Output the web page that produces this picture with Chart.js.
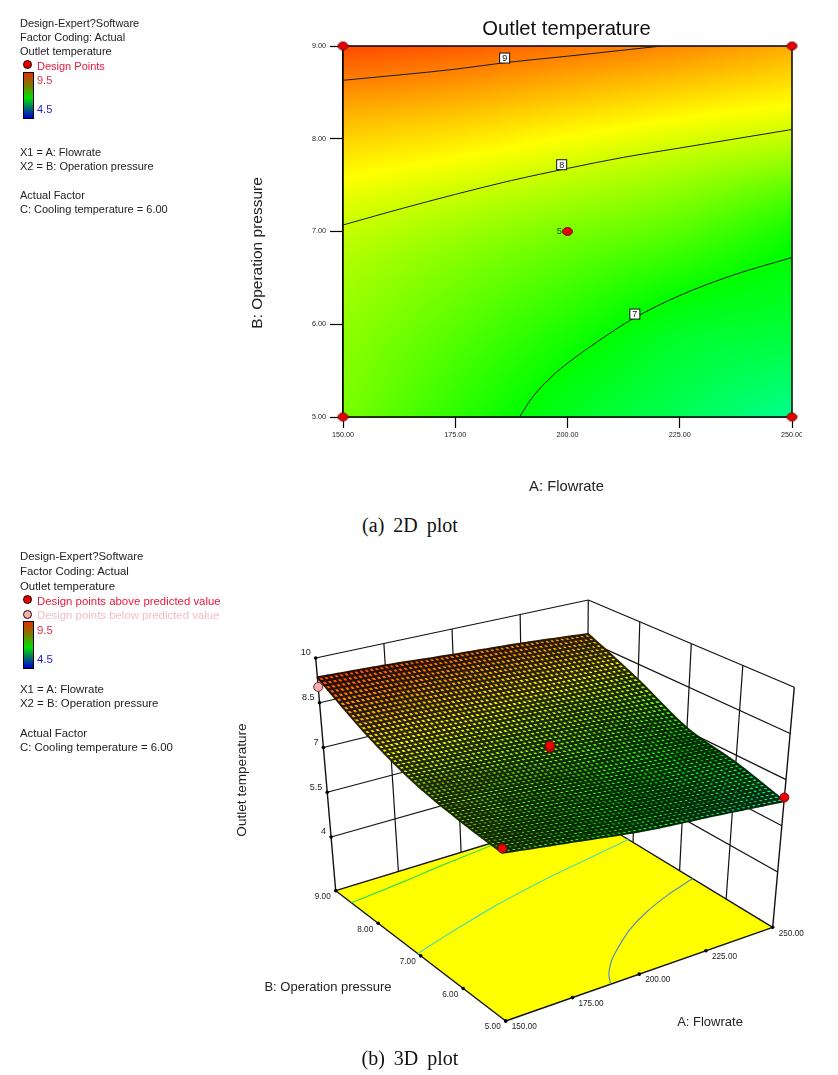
<!DOCTYPE html>
<html>
<head>
<meta charset="utf-8">
<script src="https://cdn.jsdelivr.net/npm/chart.js@4"></script>
<style>
  html, body { margin: 0; padding: 0; background: #fff; }
  body { width: 838px; height: 1075px; position: relative; overflow: hidden; font-family: "Liberation Sans", sans-serif; }
  canvas { position: absolute; left: 0; }
  #chart2d { top: 0; }
  #chart3d { top: 540px; }
  .n { position: absolute; left: 20px; line-height: 14px; white-space: nowrap; color: #222; }
  .a { font-size: 11px; }
  .b { font-size: 11.4px; }
  .c { left: 37px; }
  .bar { position: absolute; left: 23px; width: 9px; border: 1px solid #000;
         background: linear-gradient(#e03000, #7d7d00 28%, #00e000 55%, #006e6e 78%, #0000d0); }
  .dot { position: absolute; left: 22.5px; width: 7px; height: 7px; border: 1px solid #200; border-radius: 50%; }
  .cap { position: absolute; left: 300px; width: 220px; text-align: center; line-height: 24px;
         font-family: "Liberation Serif", serif; font-size: 20px; word-spacing: 4px; color: #111; }
</style>
</head>
<body>
<canvas id="chart2d" width="802" height="500"></canvas>
<canvas id="chart3d" width="838" height="535"></canvas>

<div class="n a" style="top:16px">Design-Expert?Software</div>
<div class="n a" style="top:30px">Factor Coding: Actual</div>
<div class="n a" style="top:44px">Outlet temperature</div>
<div class="dot" style="top:60px;background:#e00000"></div>
<div class="n a c" style="top:59px;color:#e8183c">Design Points</div>
<div class="bar" style="top:72px;height:45px"></div>
<div class="n a c" style="top:73px;color:#d8304c">9.5</div>
<div class="n a c" style="top:102px;color:#2222cc">4.5</div>
<div class="n a" style="top:145px">X1 = A: Flowrate</div>
<div class="n a" style="top:159px">X2 = B: Operation pressure</div>
<div class="n a" style="top:188px">Actual Factor</div>
<div class="n a" style="top:202px">C: Cooling temperature = 6.00</div>
<div class="cap" style="top:513px">(a) 2D plot</div>

<div class="n b" style="top:549px">Design-Expert?Software</div>
<div class="n b" style="top:564px">Factor Coding: Actual</div>
<div class="n b" style="top:579px">Outlet temperature</div>
<div class="dot" style="top:595px;background:#e00000"></div>
<div class="n b c" style="top:594px;color:#e8183c">Design points above predicted value</div>
<div class="dot" style="top:610px;background:#f4b0b0"></div>
<div class="n b c" style="top:608px;color:#f6bcc4">Design points below predicted value</div>
<div class="bar" style="top:621px;height:46px"></div>
<div class="n b c" style="top:623px;color:#d8304c">9.5</div>
<div class="n b c" style="top:652px;color:#2222cc">4.5</div>
<div class="n b" style="top:682px">X1 = A: Flowrate</div>
<div class="n b" style="top:696px">X2 = B: Operation pressure</div>
<div class="n b" style="top:726px">Actual Factor</div>
<div class="n b" style="top:740px">C: Cooling temperature = 6.00</div>
<div class="cap" style="top:1046px">(b) 3D plot</div>

<script>
// values
var flowTicks = [150, 175, 200, 225, 250];
var pressureTicks = [5, 6, 7, 8, 9];
var tempTicks = [10, 8.5, 7, 5.5, 4];

// outlet temperature along pressureTicks, one list per flowrate
var outlet150 = [7.60, 7.72, 7.97, 8.52, 9.35];
var outlet175 = [7.22, 7.45, 7.78, 8.40, 9.25];
var outlet200 = [6.84, 7.16, 7.60, 8.24, 9.10];
var outlet225 = [6.58, 6.86, 7.42, 8.08, 8.96];
var outlet250 = [6.30, 6.75, 7.10, 7.95, 8.76];
var outletTable = [outlet150, outlet175, outlet200, outlet225, outlet250];

var contour9Flow = [150, 175, 186, 200, 221];
var contour9Pressure = [8.63, 8.75, 8.82, 8.89, 9];
var contour8Flow = [150, 162.5, 175, 187.5, 200, 212.5, 225, 237.5, 250];
var contour8Pressure = [7.07, 7.24, 7.40, 7.55, 7.68, 7.80, 7.90, 8.00, 8.10];
var contour7Flow = [189.3, 192.3, 196.8, 200, 207.2, 214.6, 225, 236.9, 250];
var contour7Pressure = [5, 5.22, 5.45, 5.58, 5.83, 6.06, 6.31, 6.53, 6.72];

var contourLabels = ['9', '8', '7'];
var contourLabelFlow = [186, 198.7, 215];
var contourLabelPressure = [8.87, 7.72, 6.11];

var designFlow = [150, 150, 250, 250, 200];
var designPressure = [5, 9, 5, 9, 7];

// 3D markers: above / below the predicted surface
var aboveFlow = [150, 250, 200, 200];
var abovePressure = [5, 5, 7, 7];
var aboveTemp = [7.74, 6.42, 7.76, 7.83];
var belowFlow = [150];
var belowPressure = [9];
var belowTemp = [9.03];

function fmt2(v) { return Number(v).toFixed(2); }

function xy(xs, ys) {
  return xs.map(function (x, i) { return { x: x, y: ys[i] }; });
}

// blue, cyan, green, yellow, red; the last step runs a bit past the 9.5 legend mark
function rainbow(v) {
  if (v >= 8.25) return [255, Math.max(0, 255 * (9.8 - v) / 1.55), 0];
  var t = Math.max(0, (v - 4.5) / 1.25);
  var k = Math.floor(t), f = t - k;
  if (k === 0) return [0, 255 * f, 255];
  if (k === 1) return [0, 255, 255 * (1 - f)];
  return [255 * f, 255, 0];
}

function cr(p0, p1, p2, p3, t) {
  return p1 + 0.5 * t * (p2 - p0 + t * (2 * p0 - 5 * p1 + 4 * p2 - p3 + t * (3 * (p1 - p2) + p3 - p0)));
}

function pick(list, i) {
  var n = list.length;
  if (i < 0) return 2 * list[0] - list[1];
  if (i >= n) return 2 * list[n - 1] - list[n - 2];
  return list[i];
}

// smooth shading between the table values, only used for colouring
function outletAt(flow, pressure) {
  var u = Math.max(0, Math.min(3.9999, (flow - 150) / 25));
  var v = Math.max(0, Math.min(3.9999, pressure - 5));
  var iu = Math.floor(u), iv = Math.floor(v);
  var rows = [];
  for (var k = -1; k <= 2; k++) {
    var c = iu + k, col;
    if (c < 0) col = outletTable[0].map(function (y, j) { return 2 * y - outletTable[1][j]; });
    else if (c > 4) col = outletTable[4].map(function (y, j) { return 2 * y - outletTable[3][j]; });
    else col = outletTable[c];
    rows.push(cr(pick(col, iv - 1), pick(col, iv), pick(col, iv + 1), pick(col, iv + 2), v - iv));
  }
  return cr(rows[0], rows[1], rows[2], rows[3], u - iu);
}

function ellipseMark(fill) {
  var c = document.createElement('canvas');
  c.width = 13; c.height = 11;
  var g = c.getContext('2d');
  g.beginPath();
  g.ellipse(6.5, 5.5, 5, 4, 0, 0, Math.PI * 2);
  g.fillStyle = fill;
  g.fill();
  g.lineWidth = 1;
  g.strokeStyle = '#701010';
  g.stroke();
  return c;
}

function drawText(ctx, text, x, y, font, color, align, angle) {
  ctx.save();
  ctx.translate(x, y);
  if (angle) ctx.rotate(angle);
  ctx.font = font;
  ctx.fillStyle = color;
  ctx.textAlign = align || 'center';
  ctx.textBaseline = 'middle';
  ctx.fillText(text, 0, 0);
  ctx.restore();
}

var heatPlugin = {
  id: 'heat',
  beforeDatasetsDraw: function (chart) {
    var area = chart.chartArea, sx = chart.scales.x, sy = chart.scales.y;
    var ctx = chart.ctx;
    var w = Math.round(area.right - area.left), h = Math.round(area.bottom - area.top);
    var img = ctx.createImageData(w, h);
    for (var j = 0; j < h; j++) {
      var pressure = sy.getValueForPixel(area.top + j + 0.5);
      for (var i = 0; i < w; i++) {
        var rgb = rainbow(outletAt(sx.getValueForPixel(area.left + i + 0.5), pressure));
        var o = (j * w + i) * 4;
        img.data[o] = rgb[0]; img.data[o + 1] = rgb[1]; img.data[o + 2] = rgb[2]; img.data[o + 3] = 255;
      }
    }
    ctx.putImageData(img, Math.round(area.left), Math.round(area.top));
    ctx.save();
    ctx.strokeStyle = '#000';
    ctx.lineWidth = 1.5;
    ctx.strokeRect(area.left, area.top, area.right - area.left, area.bottom - area.top);
    ctx.restore();
  },
  afterDatasetsDraw: function (chart) {
    var ctx = chart.ctx, area = chart.chartArea, sx = chart.scales.x, sy = chart.scales.y;
    contourLabels.forEach(function (t, i) {
      var x = sx.getPixelForValue(contourLabelFlow[i]), y = sy.getPixelForValue(contourLabelPressure[i]);
      ctx.save();
      ctx.fillStyle = '#fff';
      ctx.strokeStyle = '#111';
      ctx.lineWidth = 1;
      ctx.fillRect(x - 5, y - 5, 10, 10);
      ctx.strokeRect(x - 5, y - 5, 10, 10);
      ctx.restore();
      drawText(ctx, t, x, y + 0.5, '9px "Liberation Sans"', '#111');
    });
    // replicate count beside the centre point
    drawText(ctx, '5', sx.getPixelForValue(200) - 8, sy.getPixelForValue(7), '9.5px "Liberation Sans"', '#0a5a20');
    var mid = (area.left + area.right) / 2 - 1;
    drawText(ctx, 'Outlet temperature', mid, 29, '20.2px "Liberation Sans"', '#111');
    drawText(ctx, 'A: Flowrate', mid, 487, '14.8px "Liberation Sans"', '#222');
    drawText(ctx, 'B: Operation pressure', 258, 253, '15.5px "Liberation Sans"', '#222', 'center', -Math.PI / 2);
  }
};

function contourSet(xs, ys) {
  return { type: 'scatter', data: xy(xs, ys), showLine: true, cubicInterpolationMode: 'monotone', borderColor: '#1a1a1a', borderWidth: 1, pointRadius: 0 };
}

new Chart(document.getElementById('chart2d'), {
  type: 'scatter',
  data: {
    datasets: [
      { data: xy(designFlow, designPressure), pointStyle: ellipseMark('#e60000'), clip: false },
      contourSet(contour9Flow, contour9Pressure),
      contourSet(contour8Flow, contour8Pressure),
      contourSet(contour7Flow, contour7Pressure)
    ]
  },
  options: {
    responsive: false,
    animation: false,
    layout: { autoPadding: false, padding: { top: 46, right: 10, left: 0, bottom: 0 } },
    plugins: { legend: { display: false }, tooltip: { enabled: false } },
    scales: {
      x: {
        min: 150, max: 250,
        // the last label runs off the edge of the canvas, as in the source figure
        afterFit: function (s) { s.height = 83; s.paddingRight = 0; s.paddingLeft = 0; },
        grid: { drawOnChartArea: false, tickLength: 11, color: '#000', tickWidth: 1.2 },
        border: { color: '#000', width: 1.5 },
        ticks: { stepSize: 25, padding: 3, maxRotation: 0, autoSkip: false, color: '#222', font: { family: 'Liberation Sans', size: 7.2 }, callback: fmt2 }
      },
      y: {
        min: 5, max: 9,
        afterFit: function (s) { s.width = 343; },
        grid: { drawOnChartArea: false, tickLength: 13, color: '#000', tickWidth: 1.2 },
        border: { color: '#000', width: 1.5 },
        ticks: { stepSize: 1, padding: 4, color: '#222', font: { family: 'Liberation Sans', size: 7.2 }, callback: fmt2 }
      }
    }
  },
  plugins: [heatPlugin]
});

// ---- 3D view: box corners as they stand in the picture, blended between them ----
var floorTemp = 2.2, topTemp = 10;
var cBottom = [505.7, 1021], cRight = [772.7, 927.3], cBack = [586.5, 814], cLeft = [335.7, 890.7];
var tBottom = [500.8, 778], tRight = [794.3, 687.3], tBack = [588.3, 600], tLeft = [315.7, 658];

function blend(p00, p10, p11, p01, u, v, k) {
  return (1 - u) * (1 - v) * p00[k] + u * (1 - v) * p10[k] + u * v * p11[k] + (1 - u) * v * p01[k];
}

function project(flow, pressure, temp) {
  var u = (flow - 150) / 100, v = (pressure - 5) / 4, w = (temp - floorTemp) / (topTemp - floorTemp);
  return {
    x: (1 - w) * blend(cBottom, cRight, cBack, cLeft, u, v, 0) + w * blend(tBottom, tRight, tBack, tLeft, u, v, 0),
    y: (1 - w) * blend(cBottom, cRight, cBack, cLeft, u, v, 1) + w * blend(tBottom, tRight, tBack, tLeft, u, v, 1)
  };
}

function line3d(a, b, width, color) {
  return {
    type: 'scatter', showLine: true, pointRadius: 0, tension: 0,
    borderColor: color || '#111', borderWidth: width || 1,
    data: [project(a[0], a[1], a[2]), project(b[0], b[1], b[2])]
  };
}

function floorCurve(xs, ys, color) {
  return {
    type: 'scatter', showLine: true, pointRadius: 0, tension: 0.3, borderColor: color, borderWidth: 1.2,
    data: xs.map(function (x, i) { return project(x, ys[i], floorTemp); })
  };
}

var meshCells = 54;

var surfacePlugin = {
  id: 'surface',
  beforeDatasetsDraw: function (chart) {
    var ctx = chart.ctx, sx = chart.scales.x, sy = chart.scales.y;
    ctx.beginPath();
    [[150, 5], [250, 5], [250, 9], [150, 9]].forEach(function (c, i) {
      var p = project(c[0], c[1], floorTemp);
      var x = sx.getPixelForValue(p.x), y = sy.getPixelForValue(p.y);
      if (i) ctx.lineTo(x, y); else ctx.moveTo(x, y);
    });
    ctx.closePath();
    ctx.fillStyle = '#ffff00';
    ctx.fill();
  },
  beforeDatasetDraw: function (chart, args) {
    if (args.index !== 1) return;
    var ctx = chart.ctx, sx = chart.scales.x, sy = chart.scales.y;
    function node(i, j) {
      var f = 150 + 100 * i / meshCells, p = 5 + 4 * j / meshCells;
      var q = project(f, p, outletAt(f, p));
      return [sx.getPixelForValue(q.x), sy.getPixelForValue(q.y)];
    }
    ctx.save();
    ctx.lineWidth = 2.1;
    ctx.lineJoin = 'bevel';
    for (var j = meshCells - 1; j >= 0; j--) {
      for (var i = 0; i < meshCells; i++) {
        var a = node(i, j), b = node(i + 1, j), c = node(i + 1, j + 1), d = node(i, j + 1);
        var rgb = rainbow(outletAt(150 + 100 * (i + 0.5) / meshCells, 5 + 4 * (j + 0.5) / meshCells));
        ctx.beginPath();
        ctx.moveTo(a[0], a[1]); ctx.lineTo(b[0], b[1]); ctx.lineTo(c[0], c[1]); ctx.lineTo(d[0], d[1]);
        ctx.closePath();
        ctx.fillStyle = 'rgb(' + rgb.map(Math.round).join(',') + ')';
        ctx.fill();
        // wire colour: the cell colour well darkened, the thin black wires blur into it
        ctx.strokeStyle = 'rgb(' + rgb.map(function (k) { return Math.round(k * 0.16); }).join(',') + ')';
        ctx.stroke();
      }
    }
    ctx.restore();
  },
  afterDatasetsDraw: function (chart) {
    var ctx = chart.ctx, sx = chart.scales.x, sy = chart.scales.y, font = '8.2px "Liberation Sans"';
    function px(p) { return [sx.getPixelForValue(p.x), sy.getPixelForValue(p.y)]; }
    flowTicks.forEach(function (f) {
      var q = px(project(f, 5, floorTemp));
      drawText(ctx, fmt2(f), q[0] + 6, q[1] + 6, font, '#222', 'left');
    });
    pressureTicks.forEach(function (b) {
      var q = px(project(150, b, floorTemp));
      drawText(ctx, fmt2(b), q[0] - 5, q[1] + 6, font, '#222', 'right');
    });
    tempTicks.forEach(function (t) {
      var q = px(project(150, 9, t));
      drawText(ctx, String(t), q[0] - 5, q[1] - 5, '9px "Liberation Sans"', '#222', 'right');
    });
    drawText(ctx, 'Outlet temperature', 242, 780 - 540, '13.6px "Liberation Sans"', '#222', 'center', -Math.PI / 2);
    drawText(ctx, 'B: Operation pressure', 328, 987 - 540, '13px "Liberation Sans"', '#222');
    drawText(ctx, 'A: Flowrate', 710, 1022 - 540, '13px "Liberation Sans"', '#222');
  }
};

var sets3d = [];
// markers first: they are painted last
sets3d.push({
  type: 'scatter', pointRadius: 4.5, pointBackgroundColor: '#f00000', pointBorderColor: '#701010', pointBorderWidth: 1,
  data: aboveFlow.map(function (f, i) { return project(f, abovePressure[i], aboveTemp[i]); })
});
sets3d.push({
  type: 'scatter', pointRadius: 4.5, pointBackgroundColor: '#f4b0b0', pointBorderColor: '#702020', pointBorderWidth: 1,
  data: belowFlow.map(function (f, i) { return project(f, belowPressure[i], belowTemp[i]); })
});

// floor ticks
sets3d.push({
  type: 'scatter', pointRadius: 1.8, pointBackgroundColor: '#000', pointBorderWidth: 0,
  data: flowTicks.map(function (f) { return project(f, 5, floorTemp); })
    .concat(pressureTicks.map(function (b) { return project(150, b, floorTemp); }))
    .concat(tempTicks.map(function (t) { return project(150, 9, t); }))
});

sets3d.push(floorCurve(contour9Flow, contour9Pressure, '#3cdc50'));
sets3d.push(floorCurve(contour8Flow, contour8Pressure, '#50dcaa'));
sets3d.push(floorCurve(contour7Flow, contour7Pressure, '#5a8cbe'));

// floor edges
sets3d.push(line3d([150, 5, floorTemp], [250, 5, floorTemp], 1.4));
sets3d.push(line3d([150, 5, floorTemp], [150, 9, floorTemp], 1.4));
sets3d.push(line3d([150, 9, floorTemp], [250, 9, floorTemp], 1.4));
sets3d.push(line3d([250, 5, floorTemp], [250, 9, floorTemp], 1.4));

// walls
sets3d.push(line3d([150, 9, floorTemp], [150, 9, topTemp], 1.4));
sets3d.push(line3d([250, 5, floorTemp], [250, 5, topTemp], 1.4));
sets3d.push(line3d([250, 9, floorTemp], [250, 9, topTemp], 1.2));
sets3d.push(line3d([150, 9, topTemp], [250, 9, topTemp], 1.2));
sets3d.push(line3d([250, 9, topTemp], [250, 5, topTemp], 1.2));
flowTicks.slice(1, 4).forEach(function (f) {
  sets3d.push(line3d([f, 9, floorTemp], [f, 9, topTemp], 1.2));
});
pressureTicks.slice(1, 4).forEach(function (b) {
  sets3d.push(line3d([250, b, floorTemp], [250, b, topTemp], 1.2));
});
tempTicks.slice(1).forEach(function (t) {
  sets3d.push(line3d([150, 9, t], [250, 9, t], 1.2));
  sets3d.push(line3d([250, 9, t], [250, 5, t], 1.2));
});

new Chart(document.getElementById('chart3d'), {
  type: 'scatter',
  data: { datasets: sets3d },
  options: {
    responsive: false,
    animation: false,
    layout: { autoPadding: false, padding: 0 },
    plugins: { legend: { display: false }, tooltip: { enabled: false } },
    scales: {
      x: { display: false, min: 0, max: 838 },
      y: { display: false, min: 540, max: 1075, reverse: true }
    }
  },
  plugins: [surfacePlugin]
});
</script>
</body>
</html>
